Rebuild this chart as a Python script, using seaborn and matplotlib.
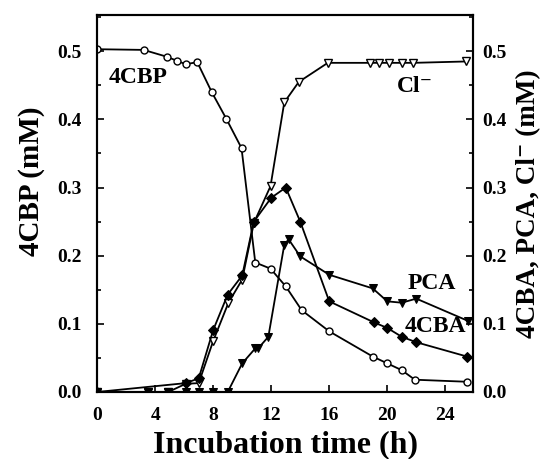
import matplotlib
matplotlib.use("Agg")
import matplotlib.pyplot as plt
import seaborn as sns
from matplotlib.ticker import MultipleLocator, FormatStrFormatter

sns.set_style("ticks")
plt.rcParams['font.family'] = ['Liberation Serif', 'DejaVu Serif']
plt.rcParams['font.weight'] = 'bold'
for k in ['text.color', 'axes.labelcolor', 'xtick.color', 'ytick.color', 'axes.edgecolor']:
    plt.rcParams[k] = 'black'

# 4CBP (left axis)
cbp_t = [0, 3.2, 4.8, 5.5, 6.1, 6.9, 7.9, 8.9, 9.95, 10.9, 11.95, 13.0, 14.1, 16.0, 19.0, 20.0, 21.0, 21.9, 25.5]
cbp_v = [0.503, 0.502, 0.492, 0.486, 0.481, 0.484, 0.44, 0.401, 0.358, 0.19, 0.181, 0.155, 0.12, 0.089, 0.052, 0.042, 0.032, 0.018, 0.015]

# Cl- (right axis)
cl_t = [0, 3.5, 4.9, 6.1, 7.0, 8.0, 9.05, 10.0, 10.8, 11.95, 12.9, 13.9, 15.9, 18.8, 19.4, 20.1, 21.0, 21.8, 25.4]
cl_v = [0, 0, 0, 0.012, 0.013, 0.075, 0.131, 0.165, 0.248, 0.302, 0.425, 0.455, 0.483, 0.483, 0.483, 0.483, 0.483, 0.483, 0.485]

# PCA (right axis)
pca_t = [0, 3.5, 4.9, 6.1, 7.0, 8.0, 9.0, 10.0, 10.9, 11.1, 11.8, 12.9, 13.2, 14.0, 16.0, 19.0, 20.0, 21.0, 22.0, 25.6]
pca_v = [0, 0, 0, 0, 0, 0, 0, 0.042, 0.064, 0.064, 0.081, 0.216, 0.224, 0.199, 0.172, 0.152, 0.133, 0.131, 0.137, 0.104]

# 4CBA (right axis)
cba_t = [0, 6.1, 7.0, 8.0, 9.0, 10.0, 10.8, 12.0, 13.0, 14.0, 16.0, 19.1, 20.0, 21.0, 22.0, 25.5]
cba_v = [0, 0.013, 0.02, 0.091, 0.143, 0.171, 0.25, 0.285, 0.30, 0.25, 0.133, 0.102, 0.094, 0.081, 0.073, 0.052]

fig = plt.figure(figsize=(5.46, 4.59), dpi=100)
ax = fig.add_axes([0.178, 0.146, 0.688, 0.821])
ax2 = ax.twinx()

lw = 1.3
sns.lineplot(x=cbp_t, y=cbp_v, ax=ax, sort=False, color='black', lw=lw,
             marker='o', markersize=5, markerfacecolor='white', markeredgecolor='black', markeredgewidth=1)
sns.lineplot(x=cl_t, y=cl_v, ax=ax2, sort=False, color='black', lw=lw,
             marker='v', markersize=5.5, markerfacecolor='white', markeredgecolor='black', markeredgewidth=1)
sns.lineplot(x=pca_t, y=pca_v, ax=ax2, sort=False, color='black', lw=lw,
             marker='v', markersize=6, markerfacecolor='black', markeredgecolor='black')
sns.lineplot(x=cba_t, y=cba_v, ax=ax2, sort=False, color='black', lw=lw,
             marker='D', markersize=5, markerfacecolor='black', markeredgecolor='black')

for a in (ax, ax2):
    a.set_xlim(0, 25.9)
    a.set_ylim(0, 0.553)
    a.yaxis.set_major_locator(MultipleLocator(0.1))
    a.yaxis.set_minor_locator(MultipleLocator(0.05))
    a.yaxis.set_major_formatter(FormatStrFormatter('%.1f'))
    for s in a.spines.values():
        s.set_linewidth(1.5)
        s.set_color('black')
        s.set_visible(True)

ax.xaxis.set_major_locator(MultipleLocator(4))
ax.tick_params(axis='both', which='both', direction='in', labelsize=14, width=1.2, colors='black')
ax.tick_params(axis='both', which='major', length=5)
ax.tick_params(axis='both', which='minor', length=3)
ax.tick_params(axis='x', pad=11)
ax.tick_params(axis='y', pad=11)
ax2.tick_params(axis='y', which='both', direction='in', labelsize=14, width=1.2, pad=7, colors='black')
ax2.tick_params(axis='y', which='major', length=5)
ax2.tick_params(axis='y', which='minor', length=3)
for lab in ax.get_xticklabels() + ax.get_yticklabels() + ax2.get_yticklabels():
    lab.set_fontweight('bold')

ax.set_xlabel('Incubation time (h)', fontsize=23, fontweight='bold', labelpad=4)
ax.set_ylabel('4CBP (mM)', fontsize=21, fontweight='bold')
ax.yaxis.set_label_coords(-0.14, 0.56)
ax2.set_ylabel('4CBA, PCA, Cl⁻ (mM)', fontsize=19.5, fontweight='bold')
ax2.yaxis.set_label_coords(1.115, 0.5)

ax.text(2.8, 0.461, '4CBP', fontsize=17, fontweight='bold', ha='center', va='center')
ax2.text(21.9, 0.448, 'Cl⁻', fontsize=17, fontweight='bold', ha='center', va='center')
ax2.text(23.1, 0.159, 'PCA', fontsize=17, fontweight='bold', ha='center', va='center')
ax2.text(23.3, 0.096, '4CBA', fontsize=17, fontweight='bold', ha='center', va='center')

fig.savefig('out.png', dpi=100)
